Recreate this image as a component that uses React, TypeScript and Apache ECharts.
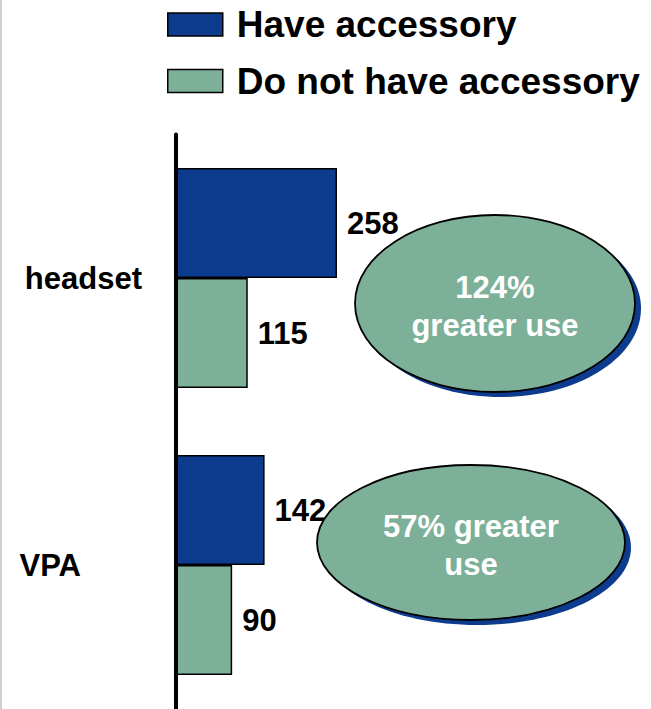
import React, { useEffect, useRef } from "react";
import * as echarts from "echarts";

const categories = ["headset", "VPA"];
const seriesNames = ["Have accessory", "Do not have accessory"];
const haveValues = [258, 142];
const notHaveValues = [115, 90];
const calloutTexts = ["124%\ngreater use", "57% greater\nuse"];

const BLUE = "#0D3B8E";
const GREEN = "#7DB098";
const FONT = "'Liberation Sans', Arial, Helvetica, sans-serif";

export default function App() {
  const ref = useRef<HTMLDivElement>(null);
  useEffect(() => {
    if (!ref.current) return;
    const chart = echarts.init(ref.current, null, { renderer: "svg" });
    const labelStyle = {
      show: true,
      position: "right",
      distance: 10,
      color: "#000",
      fontSize: 31,
      fontWeight: "bold",
      fontFamily: FONT,
    };
    const ellipses = [
      { cx: 495, cy: 303.5, rx: 140, ry: 88.5, ty: 306 },
      { cx: 471, cy: 542.5, rx: 154, ry: 77.5, ty: 545 },
    ];
    const graphics: any[] = [
      {
        type: "line",
        shape: { x1: 1, y1: 0, x2: 1, y2: 709 },
        style: { stroke: "#d0d0d0", lineWidth: 2 },
      },
    ];
    ellipses.forEach((e, i) => {
      graphics.push({
        type: "ellipse",
        shape: { cx: e.cx + 6, cy: e.cy + 5, rx: e.rx, ry: e.ry },
        style: { fill: BLUE },
        z: 10,
      });
      graphics.push({
        type: "ellipse",
        shape: { cx: e.cx, cy: e.cy, rx: e.rx, ry: e.ry },
        style: { fill: GREEN, stroke: "#000", lineWidth: 1.8 },
        z: 11,
      });
      graphics.push({
        type: "text",
        x: e.cx,
        y: e.ty,
        z: 12,
        style: {
          text: calloutTexts[i],
          fill: "#fff",
          font: `bold 31px ${FONT}`,
          align: "center",
          verticalAlign: "middle",
          lineHeight: 38,
        },
      });
    });
    chart.setOption({
      animation: false,
      backgroundColor: "#fff",
      legend: {
        orient: "vertical",
        left: 162,
        top: 1,
        itemWidth: 55,
        itemHeight: 23,
        itemGap: 19.5,
        icon: "rect",
        itemStyle: { borderColor: "#000", borderWidth: 1.5 },
        textStyle: {
          fontSize: 37,
          lineHeight: 36,
          fontWeight: "bold",
          color: "#000",
          fontFamily: FONT,
          padding: [0, 0, 0, 9],
        },
        data: seriesNames,
      },
      grid: {
        left: 176,
        right: 100.6,
        top: 134.5,
        bottom: 0.5,
        containLabel: false,
        outerBoundsMode: "none",
      },
      xAxis: {
        type: "value",
        min: 0,
        max: 600,
        show: false,
      },
      yAxis: {
        type: "category",
        inverse: true,
        z: 5,
        data: categories.map((c, i) => ({
          value: c,
          textStyle: i === 1 ? { padding: [0, 61, 0, 0] } : {},
        })),
        axisLine: { show: true, lineStyle: { color: "#000", width: 4, cap: "round" } },
        axisTick: { show: false },
        splitLine: { show: false },
        axisLabel: {
          margin: 34,
          color: "#000",
          fontSize: 31,
          fontWeight: "bold",
          fontFamily: FONT,
        },
      },
      series: [
        {
          name: seriesNames[0],
          type: "bar",
          data: haveValues,
          barWidth: 110,
          barGap: "0%",
          itemStyle: { color: BLUE, borderColor: "#000", borderWidth: 1.5 },
          label: labelStyle,
        },
        {
          name: seriesNames[1],
          type: "bar",
          data: notHaveValues,
          barWidth: 110,
          barGap: "0%",
          itemStyle: { color: GREEN, borderColor: "#000", borderWidth: 1.5 },
          label: labelStyle,
        },
      ],
      graphic: graphics,
    });
    return () => chart.dispose();
  }, []);
  return (
    <div
      ref={ref}
      style={{ position: "fixed", left: 0, top: 0, width: 651, height: 709 }}
    />
  );
}
